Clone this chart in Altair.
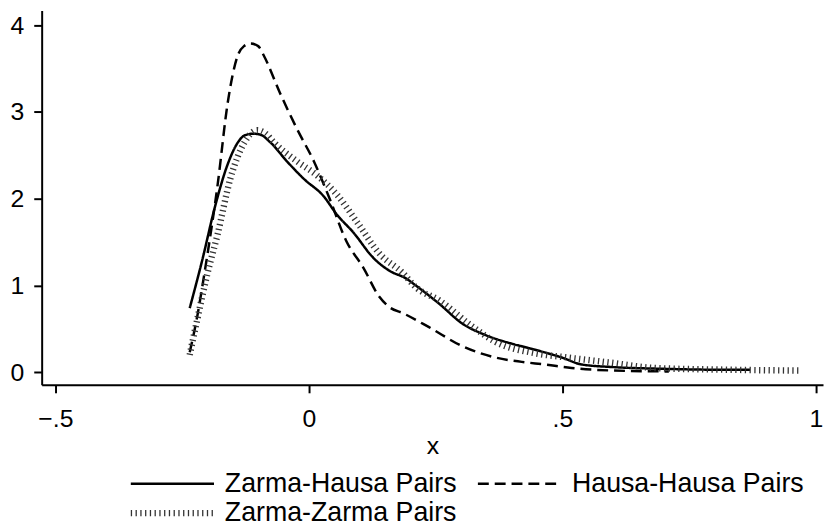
import altair as alt
import pandas as pd

series_names = ["Zarma-Hausa Pairs", "Hausa-Hausa Pairs", "Zarma-Zarma Pairs"]
series_widths = [2.5, 2.5, 6.5]

zh_x = [-0.235, -0.21, -0.186, -0.16, -0.14, -0.127, -0.11, -0.096, -0.076, -0.043, -0.01, 0.029,
        0.055, 0.088, 0.127, 0.159, 0.192, 0.211, 0.257, 0.303, 0.348, 0.40, 0.433, 0.499, 0.538,
        0.60, 0.70, 0.80, 0.87]
zh_y = [0.74, 1.30, 1.89, 2.40, 2.65, 2.73, 2.75, 2.74, 2.65, 2.43, 2.23, 2.03,
        1.82, 1.61, 1.32, 1.17, 1.08, 1.00, 0.79, 0.56, 0.43, 0.33, 0.28, 0.17, 0.09,
        0.06, 0.04, 0.03, 0.03]

hh_x = [-0.235, -0.22, -0.206, -0.18, -0.16, -0.141, -0.128, -0.115, -0.10, -0.088, -0.057, -0.023,
        0.01, 0.041, 0.074, 0.107, 0.139, 0.159, 0.186, 0.237, 0.303, 0.368, 0.42, 0.466, 0.518,
        0.60, 0.71]
hh_y = [0.23, 0.65, 1.14, 2.16, 3.11, 3.64, 3.76, 3.79, 3.76, 3.64, 3.22, 2.80,
        2.43, 2.00, 1.51, 1.21, 0.87, 0.75, 0.68, 0.52, 0.30, 0.17, 0.12, 0.09, 0.05,
        0.02, 0.01]

zz_x = [-0.235, -0.219, -0.20, -0.18, -0.155, -0.127, -0.102, -0.085, -0.069, -0.023, 0.016, 0.055,
        0.094, 0.139, 0.186, 0.211, 0.257, 0.322, 0.368, 0.446, 0.511, 0.597, 0.681, 0.824, 0.968]
zz_y = [0.20, 0.64, 1.14, 1.59, 2.23, 2.65, 2.79, 2.75, 2.65, 2.43, 2.27, 2.05,
        1.74, 1.37, 1.14, 0.98, 0.83, 0.53, 0.35, 0.22, 0.17, 0.11, 0.05, 0.03, 0.02]

x_ticks = [-0.5, 0, 0.5, 1]
y_ticks = [0, 1, 2, 3, 4]

rows = []
for name, w, xs, ys in zip(series_names, series_widths, [zh_x, hh_x, zz_x], [zh_y, hh_y, zz_y]):
    for i, (a, b) in enumerate(zip(xs, ys)):
        rows.append({"series": name, "sw": w, "order": i, "x": a, "y": b})
df = pd.DataFrame(rows)

FONT = "Liberation Sans"

x_label_expr = "replace(replace(format(datum.value, '~g'), '-0.', '\u2013.'), '0.', '.')"
legend_sw = "datum.label == '%s' ? %s : %s" % (series_names[2], series_widths[2], series_widths[0])

legend = alt.Legend(symbolStrokeWidth=alt.ExprRef(expr=legend_sw))

chart = alt.Chart(df).mark_line(interpolate="monotone", strokeCap="butt").encode(
    x=alt.X("x:Q", title="x",
            scale=alt.Scale(domain=[-0.527, 1.014], nice=False, zero=False),
            axis=alt.Axis(values=x_ticks, grid=False, labelExpr=x_label_expr)),
    y=alt.Y("y:Q", title=None,
            scale=alt.Scale(domain=[-0.145, 4.17], nice=False, zero=False),
            axis=alt.Axis(values=y_ticks, grid=False, format="d")),
    color=alt.Color("series:N", title=None, legend=legend,
                    scale=alt.Scale(domain=series_names, range=["#000000", "#000000", "#333333"])),
    strokeDash=alt.StrokeDash("series:N", title=None, legend=legend,
                              scale=alt.Scale(domain=series_names, range=[[1, 0], [11, 6], [1.3, 3.5]])),
    strokeWidth=alt.StrokeWidth("sw:Q", scale=None, legend=None),
    detail="series:N",
    order="order:Q",
).properties(
    width=789, height=378,
    autosize=alt.AutoSizeParams(type="none"),
    padding={"left": 34, "top": 0, "right": 1, "bottom": 145},
).configure_view(stroke=None).configure_axis(
    domainColor="black", domainWidth=2, tickColor="black", tickWidth=2, tickSize=8,
    labelFont=FONT, labelFontSize=25, labelColor="black",
    titleFont=FONT, titleFontSize=25, titleColor="black", titleFontWeight="normal",
).configure_axisX(labelPadding=14, titlePadding=2).configure_axisY(labelPadding=10).configure_legend(
    orient="none", legendX=118.5, legendY=464, direction="horizontal", columns=2,
    symbolType="M-4,0H4", symbolSize=441, labelOffset=39.5, columnPadding=15.5, rowPadding=2,
    labelFont=FONT, labelFontSize=27, labelColor="black", labelLimit=400,
)

chart.save("out.html", embed_options={"renderer": "svg", "actions": False})
